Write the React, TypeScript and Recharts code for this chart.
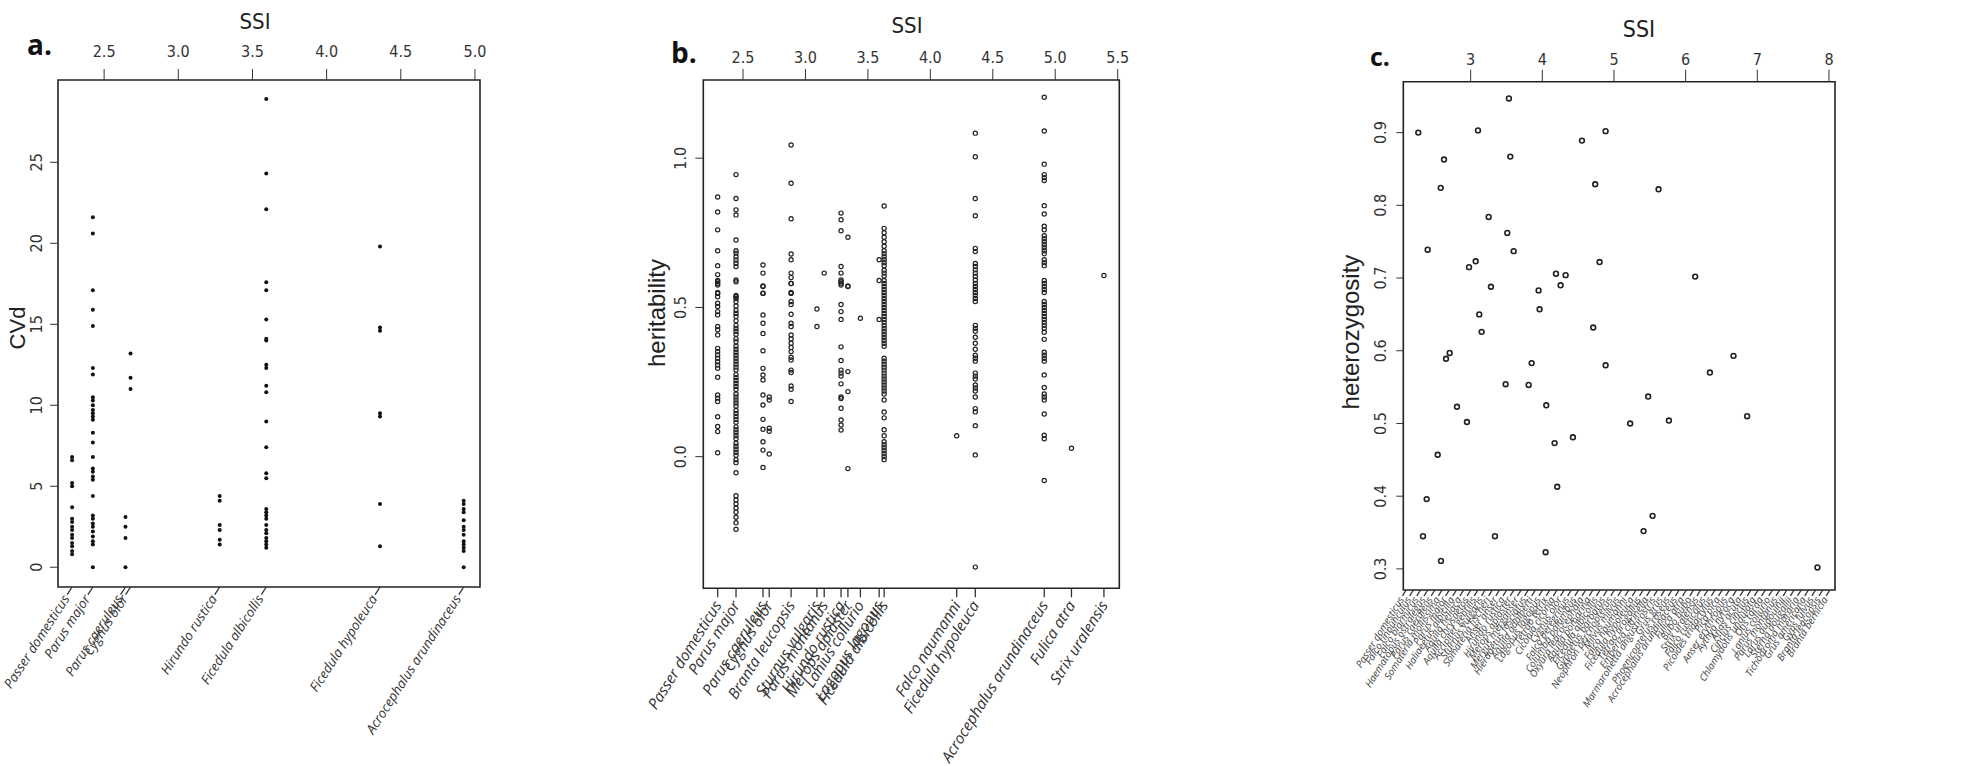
import React from "react"
import { ScatterChart, Scatter, XAxis, YAxis, ReferenceArea } from "recharts"

// ---------- panel a : CVd ----------
const aSpecies = [
  "Passer domesticus", "Parus major", "Parus caeruleus", "Cygnus olor",
  "Hirundo rustica", "Ficedula albicollis", "Ficedula hypoleuca", "Acrocephalus arundinaceus",
]
const aSsi = [2.284, 2.424, 2.644, 2.678, 3.279, 3.593, 4.36, 4.924]
const aCvd = [
  [6.8, 6.6, 5.2, 5.0, 3.7, 3.0, 2.8, 2.5, 2.3, 2.0, 1.8, 1.5, 1.3, 1.0, 0.8],
  [21.6, 20.6, 17.1, 15.9, 14.9, 12.3, 11.9, 10.5, 10.3, 10.0, 9.7, 9.5, 9.3, 9.1, 8.3, 7.7, 6.8, 6.1, 5.9, 5.6, 5.4, 4.4, 3.2, 3.0, 2.7, 2.5, 2.2, 1.9, 1.6, 1.4, 0.0],
  [3.1, 2.5, 1.8, 0.0],
  [13.2, 11.7, 11.0],
  [4.4, 4.1, 2.6, 2.3, 1.7, 1.4],
  [28.9, 24.3, 22.1, 17.6, 17.1, 15.3, 14.1, 14.0, 12.5, 12.3, 11.2, 10.8, 9.0, 7.4, 5.8, 5.5, 3.6, 3.4, 3.2, 3.0, 2.6, 2.3, 2.1, 1.8, 1.6, 1.4, 1.2],
  [19.8, 14.8, 14.6, 9.5, 9.3, 3.9, 1.3],
  [4.1, 3.9, 3.6, 3.4, 2.9, 2.5, 2.3, 2.0, 1.6, 1.4, 1.2, 1.0, 0.0],
]
const aTopTicks = [2.5, 3.0, 3.5, 4.0, 4.5, 5.0]
const aYTicks = [0, 5, 10, 15, 20, 25]

// ---------- panel b : heritability ----------
const bSpecies = [
  "Passer domesticus", "Parus major", "Parus caeruleus", "Cygnus olor", "Branta leucopsis",
  "Sturnus vulgaris", "Parus montanus", "Hirundo rustica", "Merops apiaster", "Lanius collurio",
  "Lagopus lagopus", "Ficedula albicollis", "Falco naumanni", "Ficedula hypoleuca",
  "Acrocephalus arundinaceus", "Fulica atra", "Strix uralensis",
]
const bSsi = [2.297, 2.444, 2.66, 2.71, 2.885, 3.092, 3.15, 3.285, 3.34, 3.44, 3.59, 3.63, 4.211, 4.36, 4.912, 5.13, 5.39]
const bHerit = [
  [0.87, 0.82, 0.76, 0.69, 0.64, 0.61, 0.59, 0.58, 0.55, 0.586, 0.575, 0.547, 0.536, 0.514, 0.503, 0.486, 0.475, 0.436, 0.425, 0.408, 0.363, 0.352, 0.341, 0.33, 0.318, 0.307, 0.296, 0.266, 0.207, 0.196, 0.185, 0.134, 0.101, 0.084, 0.013],
  [0.945, 0.865, 0.827, 0.81, 0.726, 0.69, 0.682, 0.67, 0.659, 0.648, 0.637, 0.592, 0.536, 0.586, 0.54, 0.53, 0.52, 0.505, 0.49, 0.48, 0.47, 0.455, 0.44, 0.43, 0.42, 0.41, 0.395, 0.385, 0.37, 0.36, 0.35, 0.34, 0.33, 0.32, 0.31, 0.3, 0.29, 0.275, 0.265, 0.255, 0.245, 0.235, 0.225, 0.21, 0.2, 0.19, 0.18, 0.17, 0.155, 0.145, 0.135, 0.125, 0.115, 0.1, 0.09, 0.08, 0.07, 0.06, 0.045, 0.035, 0.025, 0.015, 0.005, -0.01, -0.02, -0.054, -0.131, -0.145, -0.158, -0.173, -0.186, -0.203, -0.221, -0.243],
  [0.642, 0.615, 0.572, 0.548, 0.57, 0.547, 0.475, 0.447, 0.413, 0.355, 0.296, 0.274, 0.257, 0.207, 0.173, 0.125, 0.092, 0.05, 0.022, -0.036],
  [0.2, 0.19, 0.095, 0.085, 0.009],
  [1.044, 0.916, 0.797, 0.679, 0.66, 0.615, 0.6, 0.58, 0.55, 0.58, 0.547, 0.52, 0.51, 0.477, 0.447, 0.436, 0.408, 0.394, 0.38, 0.366, 0.352, 0.333, 0.324, 0.29, 0.282, 0.237, 0.226, 0.185],
  [0.495, 0.436],
  [0.615],
  [0.816, 0.794, 0.757, 0.637, 0.615, 0.592, 0.581, 0.586, 0.575, 0.51, 0.486, 0.46, 0.368, 0.322, 0.29, 0.28, 0.27, 0.244, 0.2, 0.195, 0.162, 0.123, 0.106, 0.089],
  [0.735, 0.572, 0.57, 0.285, 0.218, -0.04],
  [0.464],
  [0.66, 0.59, 0.46],
  [0.84, 0.765, 0.75, 0.735, 0.72, 0.705, 0.69, 0.68, 0.67, 0.66, 0.65, 0.64, 0.625, 0.615, 0.605, 0.59, 0.58, 0.57, 0.56, 0.55, 0.54, 0.53, 0.52, 0.51, 0.5, 0.49, 0.48, 0.47, 0.46, 0.45, 0.44, 0.43, 0.42, 0.41, 0.4, 0.39, 0.38, 0.37, 0.33, 0.32, 0.31, 0.3, 0.29, 0.28, 0.27, 0.26, 0.25, 0.24, 0.23, 0.22, 0.21, 0.19, 0.15, 0.13, 0.09, 0.07, 0.05, 0.04, 0.03, 0.02, 0.01, 0.0, -0.01],
  [0.07],
  [1.084, 1.005, 0.865, 0.807, 0.698, 0.687, 0.647, 0.637, 0.626, 0.615, 0.604, 0.592, 0.58, 0.57, 0.56, 0.55, 0.54, 0.53, 0.52, 0.44, 0.43, 0.42, 0.4, 0.38, 0.36, 0.34, 0.33, 0.32, 0.28, 0.27, 0.26, 0.24, 0.23, 0.22, 0.2, 0.161, 0.15, 0.104, 0.006, -0.37],
  [1.204, 1.091, 0.98, 0.945, 0.935, 0.925, 0.841, 0.813, 0.772, 0.76, 0.74, 0.73, 0.72, 0.71, 0.7, 0.69, 0.68, 0.66, 0.65, 0.64, 0.59, 0.58, 0.57, 0.56, 0.55, 0.52, 0.51, 0.5, 0.49, 0.48, 0.47, 0.46, 0.45, 0.44, 0.43, 0.417, 0.393, 0.35, 0.34, 0.33, 0.32, 0.274, 0.232, 0.21, 0.2, 0.19, 0.143, 0.072, 0.06, -0.08],
  [0.028],
  [0.607],
]
const bTopTicks = [2.5, 3.0, 3.5, 4.0, 4.5, 5.0, 5.5]
const bYTicks = [0, 0.5, 1.0]

// ---------- panel c : heterozygosity ----------
const cSsi = [
  2.269, 3.534, 3.102, 2.628, 3.553, 2.582, 4.553, 4.883, 4.738, 5.622, 3.251, 3.511, 3.6, 2.4,
  2.977, 3.07, 4.799, 4.19, 4.325, 6.133, 3.283, 4.255, 3.948, 3.962, 3.12, 3.153, 4.71, 2.656,
  2.707, 3.851, 4.883, 6.668, 6.338, 3.488, 3.809, 5.477, 4.055, 2.809, 2.948, 5.226, 5.766,
  6.858, 4.427, 4.171, 2.54, 4.208, 2.386, 2.335, 3.339, 5.413, 5.538, 2.586, 4.046, 7.839,
]
const cHet = [
  0.9, 0.947, 0.903, 0.863, 0.867, 0.824, 0.889, 0.902, 0.829, 0.822, 0.784, 0.762, 0.737, 0.739,
  0.715, 0.723, 0.722, 0.706, 0.704, 0.702, 0.688, 0.69, 0.683, 0.657, 0.65, 0.626, 0.632, 0.589,
  0.597, 0.583, 0.58, 0.593, 0.57, 0.554, 0.553, 0.537, 0.525, 0.523, 0.502, 0.5, 0.504,
  0.51, 0.481, 0.473, 0.457, 0.413, 0.396, 0.345, 0.345, 0.352, 0.373, 0.311, 0.323, 0.302,
]
const cSpecies = [
  "Passer domesticus", "Falco tinnunculus", "Falco biarmicus", "Haematopus ostralegus", "Parus caeruleus",
  "Somateria mollissima", "Parus major", "Haliaeetus albicilla", "Aquila heliaca", "Aquila chrysaetos",
  "Accipiter gentilis", "Sturnus vulgaris", "Somateria fischeri", "Anser anser", "Hirundo rustica",
  "Merops apiaster", "Mergus merganser", "Hieraaetus fasciatus", "Aquila adalberti", "Lagopus lagopus",
  "Tetrao tetrix", "Ciconia ciconia", "Cygnus olor", "Falco peregrinus", "Columba palumbus",
  "Oxyura leucocephala", "Aquila pomarina", "Ficedula albicollis", "Gypaetus barbatus", "Neophron percnopterus",
  "Milvus milvus", "Falco naumanni", "Ficedula hypoleuca", "Tetrao urogallus", "Emberiza citrinella",
  "Marmaronetta angustirostris", "Grus grus", "Phoenicopterus roseus", "Acrocephalus arundinaceus", "Fulica atra",
  "Bubo bubo", "Strix uralensis", "Falco rusticolus", "Picoides tridactylus", "Pica pica",
  "Anser erythropus", "Aythya nyroca", "Anas acuta", "Cinclus cinclus", "Chlamydotis undulata",
  "Otis tarda", "Lanius collurio", "Parus montanus", "Larus audouinii", "Sterna dougallii",
  "Tichodroma muraria", "Grus americana", "Gyps fulvus", "Branta leucopsis", "Branta bernicla",
]
const cTopTicks = [3, 4, 5, 6, 7, 8]
const cYTicks = [0.3, 0.4, 0.5, 0.6, 0.7, 0.8, 0.9]

const numFont = "'Liberation Sans Narrow', 'DejaVu Sans Condensed', 'Liberation Sans', Arial, sans-serif"
const labFont = "'Liberation Sans', Arial, sans-serif"
const spFont = "'Open Sans', 'DejaVu Sans', sans-serif"
const ink = "#222"

const aPoints = aSsi.flatMap((s, i) => aCvd[i].map(v => ({ x: s, y: v })))
const bPoints = bSsi.flatMap((s, i) => bHerit[i].map(v => ({ x: s, y: v })))
const cPoints = cSsi.map((s, i) => ({ x: s, y: cHet[i] }))
// one entry per species, only to hook the bottom name axis to a series
const aAnchors = aSsi.map((s, i) => ({ x: s, y: aCvd[i][0] }))
const bAnchors = bSsi.map((s, i) => ({ x: s, y: bHerit[i][0] }))
const cAnchors = cSpecies.map((_, i) => ({ x: i, y: cHet[0] }))

function TopTick(props: any) {
  const { x, y, payload, digits } = props
  return (
    <text x={x} y={y} textAnchor="middle" fontSize={16} fill="#333" fontFamily={numFont}>
      {payload.value.toFixed(digits)}
    </text>
  )
}

function SideTick(props: any) {
  const { x, y, payload, digits } = props
  return (
    <text x={x} y={y} transform={`rotate(-90 ${x} ${y})`} textAnchor="middle" fontSize={16} fill="#333" fontFamily={numFont}>
      {payload.value.toFixed(digits)}
    </text>
  )
}

// species names hanging under the box, R style
function NameTick(props: any) {
  const { x, y, payload, names, keys, len, gap, angle, size, color, vertical } = props
  const rad = angle * Math.PI / 180
  const dx = -Math.cos(rad), dy = Math.sin(rad)
  const x2 = vertical ? x : x + dx * len
  const y2 = vertical ? y + len : y + dy * len
  const tx = vertical ? x : x + dx * (len + gap)
  const ty = vertical ? y2 + gap : y + dy * (len + gap)
  const name = names[keys ? keys.indexOf(payload.value) : payload.value]
  return (
    <g>
      <line x1={x} y1={y} x2={x2} y2={y2} stroke="#333" strokeWidth={1.3} />
      <text x={tx} y={ty} dy="0.35em" transform={`rotate(${-angle} ${tx} ${ty})`} textAnchor="end"
        fontStyle="italic" fontSize={size} fill={color} fontFamily={spFont}>
        {name}
      </text>
    </g>
  )
}

const dotA = (p: any) => <circle cx={p.cx} cy={p.cy} r={2} fill="#111" />
const dotB = (p: any) => <circle cx={p.cx} cy={p.cy} r={2.1} fill="none" stroke="#222" strokeWidth={1.2} />
const dotC = (p: any) => <circle cx={p.cx} cy={p.cy} r={2.4} fill="#fff" stroke="#222" strokeWidth={1.6} />
const noDot = () => <g />

export default function App() {
  const aX = [2.189, 5.034], aY = [-1.22, 30.08]
  const bX = [2.182, 5.513], bY = [-0.441, 1.262]
  const cX = [2.06, 8.084], cY = [0.271, 0.97]
  const cIdx = cSpecies.map((_, i) => i)

  return (
    <div style={{ position: "absolute", left: 0, top: 0, width: 1980, height: 766, background: "#fff" }}>
      <div style={{ position: "absolute", left: 0, top: 0 }}>
        <ScatterChart width={520} height={766} margin={{ top: 0, right: 40, bottom: 0, left: 0 }}>
          <XAxis xAxisId="ssi" dataKey="x" type="number" orientation="top" domain={aX} allowDataOverflow
            ticks={aTopTicks} interval={0} height={80} tickSize={11} tickMargin={12} axisLine={false}
            stroke="#333" tick={(p: any) => <TopTick {...p} digits={1} />} />
          <XAxis xAxisId="sp" dataKey="x" type="number" orientation="bottom" domain={aX} allowDataOverflow
            ticks={aSsi} interval={0} height={179} tickSize={0} tickMargin={0} axisLine={false} tickLine={false}
            tick={(p: any) => <NameTick {...p} names={aSpecies} keys={aSsi} len={9} gap={2} angle={57} size={13.3} color="#333" />} />
          <YAxis dataKey="y" type="number" domain={aY} allowDataOverflow ticks={aYTicks} interval={0}
            width={58} tickSize={8} tickMargin={8} axisLine={false} stroke="#333"
            tick={(p: any) => <SideTick {...p} digits={0} />} />
          <ReferenceArea xAxisId="ssi" x1={aX[0]} x2={aX[1]} y1={aY[0]} y2={aY[1]} fill="none"
            stroke={ink} strokeWidth={1.6} ifOverflow="visible" />
          <Scatter xAxisId="sp" data={aAnchors} shape={noDot} isAnimationActive={false} />
          <Scatter xAxisId="ssi" data={aPoints} shape={dotA} isAnimationActive={false} />
        </ScatterChart>
      </div>

      <div style={{ position: "absolute", left: 640, top: 0 }}>
        <ScatterChart width={500} height={766} margin={{ top: 0, right: 20.7, bottom: 0, left: 0 }}>
          <XAxis xAxisId="ssi" dataKey="x" type="number" orientation="top" domain={bX} allowDataOverflow
            ticks={bTopTicks} interval={0} height={80} tickSize={11} tickMargin={6} axisLine={false}
            stroke="#333" tick={(p: any) => <TopTick {...p} digits={1} />} />
          <XAxis xAxisId="sp" dataKey="x" type="number" orientation="bottom" domain={bX} allowDataOverflow
            ticks={bSsi} interval={0} height={177.7} tickSize={0} tickMargin={0} axisLine={false} tickLine={false}
            tick={(p: any) => <NameTick {...p} names={bSpecies} keys={bSsi} len={9} gap={5} angle={58} size={15.3} color="#333" vertical />} />
          <YAxis dataKey="y" type="number" domain={bY} allowDataOverflow ticks={bYTicks} interval={0}
            width={63.3} tickSize={8} tickMargin={9} axisLine={false} stroke="#333"
            tick={(p: any) => <SideTick {...p} digits={1} />} />
          <ReferenceArea xAxisId="ssi" x1={bX[0]} x2={bX[1]} y1={bY[0]} y2={bY[1]} fill="none"
            stroke={ink} strokeWidth={1.6} ifOverflow="visible" />
          <Scatter xAxisId="sp" data={bAnchors} shape={noDot} isAnimationActive={false} />
          <Scatter xAxisId="ssi" data={bPoints} shape={dotB} isAnimationActive={false} />
        </ScatterChart>
      </div>

      <div style={{ position: "absolute", left: 1320, top: 0 }}>
        <ScatterChart width={660} height={766} margin={{ top: 0, right: 145, bottom: 0, left: 0 }}>
          <XAxis xAxisId="ssi" dataKey="x" type="number" orientation="top" domain={cX} allowDataOverflow
            ticks={cTopTicks} interval={0} height={81.7} tickSize={12} tickMargin={5} axisLine={false}
            stroke="#333" tick={(p: any) => <TopTick {...p} digits={0} />} />
          <XAxis xAxisId="sp" dataKey="x" type="number" orientation="bottom" domain={[-0.4, 59.7]} allowDataOverflow
            ticks={cIdx} interval={0} height={176} tickSize={0} tickMargin={0} axisLine={false} tickLine={false}
            tick={(p: any) => <NameTick {...p} names={cSpecies} len={7} gap={2} angle={58} size={10} color="#444" />} />
          <YAxis dataKey="y" type="number" domain={cY} allowDataOverflow ticks={cYTicks} interval={0}
            width={83.3} tickSize={7} tickMargin={10} axisLine={false} stroke="#333"
            tick={(p: any) => <SideTick {...p} digits={1} />} />
          <ReferenceArea xAxisId="ssi" x1={cX[0]} x2={cX[1]} y1={cY[0]} y2={cY[1]} fill="none"
            stroke={ink} strokeWidth={1.6} ifOverflow="visible" />
          <Scatter xAxisId="sp" data={cAnchors} shape={noDot} isAnimationActive={false} />
          <Scatter xAxisId="ssi" data={cPoints} shape={dotC} isAnimationActive={false} />
        </ScatterChart>
      </div>

      <svg width={1980} height={766} style={{ position: "absolute", left: 0, top: 0, pointerEvents: "none" }}>
        <g fontFamily={spFont} fontWeight={700} fill="#111">
          <text x={27} y={55} fontSize={28}>a.</text>
          <text x={671} y={63} fontSize={28}>b.</text>
          <text x={1370} y={66} fontSize={25}>c.</text>
        </g>
        <g fontFamily={numFont} fill={ink} textAnchor="middle">
          <text x={255} y={29} fontSize={22}>SSI</text>
          <text x={907} y={33} fontSize={22}>SSI</text>
          <text x={1639} y={37} fontSize={23}>SSI</text>
        </g>
        <g fontFamily={labFont} fill={ink} textAnchor="middle" fontSize={22}>
          <text x={25} y={328} transform="rotate(-90 25 328)">CVd</text>
          <text x={665} y={313} transform="rotate(-90 665 313)" fontSize={24}>heritability</text>
          <text x={1359} y={332} transform="rotate(-90 1359 332)" fontSize={24}>heterozygosity</text>
        </g>
      </svg>
    </div>
  )
}
